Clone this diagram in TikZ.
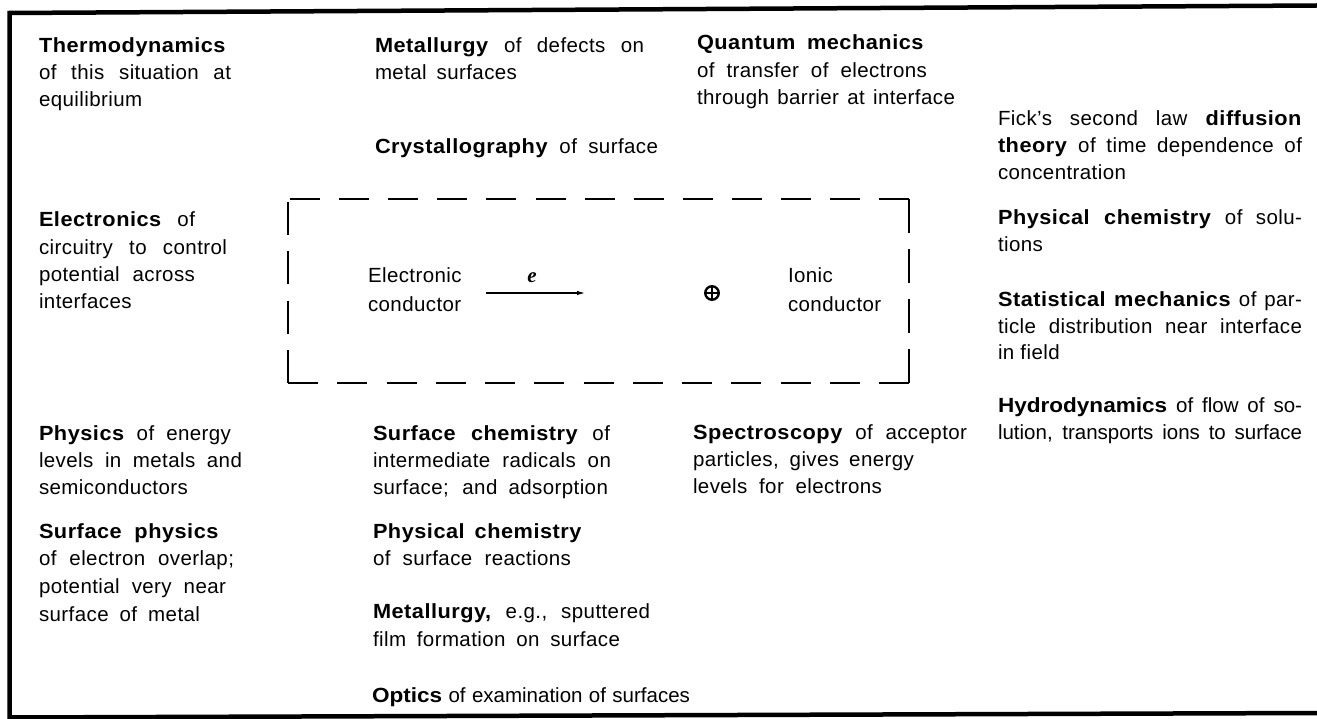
\documentclass[tikz,border=0pt]{standalone}
\usepackage{fontspec}
\setmainfont{Liberation Sans}[LetterSpace=2,BoldFeatures={FakeStretch=1.06,LetterSpace=2.5}]
\newfontfamily\tight{Liberation Sans}[BoldFeatures={FakeStretch=1.1}]
\newfontfamily\efont{Liberation Serif}
\usetikzlibrary{arrows.meta}
\newlength\jw
\newcommand\B[1]{\textbf{#1}}
\newcommand\J[2]{\settowidth\jw{#2}\ifdim\jw<#1pt\jw=#1pt\fi\makebox[\jw][s]{#2}}
\newcommand\blk[2]{\vtop{\baselineskip=#1pt\lineskiplimit=-100pt\lineskip=0pt\halign{##\hfil\cr#2\crcr}}}
\tikzset{
  txt/.style={inner sep=0pt, outer sep=0pt, anchor=base west, font=\fontsize{20.5}{27}\selectfont},
  tighttxt/.style={txt, font=\tight\fontsize{20.5}{27}\selectfont},
  dbox/.style={line width=2.2pt},
  frame/.style={line width=4.5pt, line join=miter},
  flow/.style={-{Latex[length=8pt,width=4.5pt]}, line width=1.1pt}
}
\begin{document}
\begin{tikzpicture}[x=1pt,y=-1pt]
\useasboundingbox (0,0) rectangle (1317,719);
% outer frame
\coordinate (fTL) at (9.5,13);
\coordinate (fTR) at (1317,5.5);
\coordinate (fBL) at (9.5,717.5);
\coordinate (fBR) at (1317,713);
\draw[frame] (fTR) -- (fTL) -- (fBL) -- (fBR);

% left column
\node[txt] (thermo) at (39,53) {\blk{27}{\B{Thermodynamics}\cr \J{192}{of this situation at}\cr equilibrium}};
\node[txt] (electronics) at (39,227) {\blk{27.3}{\J{156}{\B{Electronics} of}\cr \J{188}{circuitry to control}\cr \J{156}{potential across}\cr interfaces}};
\node[txt] (physics) at (39,440) {\blk{27}{\J{192}{\B{Physics} of energy}\cr \J{203}{levels in metals and}\cr semiconductors}};
\node[txt] (surfphys) at (39,538) {\blk{27.7}{\J{180}{\B{Surface physics}}\cr \J{195}{of electron overlap;}\cr \J{187}{potential very near}\cr \J{161}{surface of metal}}};

% middle column
\node[txt] (metal1) at (375,53) {\blk{27}{\J{269}{\B{Metallurgy} of defects on}\cr \J{142}{metal surfaces}}};
\node[txt] (crystal) at (375,154) {\J{283}{\B{Crystallography} of surface}};
\node[txt] (surfchem) at (373,440) {\blk{27}{\J{237}{\B{Surface chemistry} of}\cr \J{238}{intermediate radicals on}\cr \J{235}{surface; and adsorption}}};
\node[txt] (physchem) at (373,538) {\blk{27}{\J{209}{\B{Physical chemistry}}\cr \J{198}{of surface reactions}}};
\node[txt] (metal2) at (373,618) {\blk{28}{\J{277}{\B{Metallurgy,} e.g., sputtered}\cr \J{247}{film formation on surface}}};
\node[tighttxt] (optics) at (372,702) {\J{318}{\B{Optics} of examination of surfaces}};

% third column
\node[txt] (quantum) at (697,50) {\blk{27.5}{\J{227}{\B{Quantum mechanics}}\cr \J{230}{of transfer of electrons}\cr \J{258}{through barrier at interface}}};
\node[txt] (spectro) at (693,439) {\blk{27}{\J{274}{\B{Spectroscopy} of acceptor}\cr \J{221}{particles, gives energy}\cr \J{189}{levels for electrons}}};

% right column
\node[txt] (fick) at (998,126) {\blk{27}{\J{304}{Fick’s second law \B{diffusion}}\cr \J{304}{\B{theory} of time dependence of}\cr concentration}};
\node[txt] (solutions) at (998,225) {\blk{27}{\J{304}{\B{Physical chemistry} of solu-}\cr tions}};
\node[txt] (statmech) at (998,306) {\blk{27}{\J{304}{\B{Statistical mechanics} of par-}\cr \J{304}{ticle distribution near interface}\cr in field}};
\node[tighttxt] (hydro) at (998,412) {\blk{27}{\J{304}{\B{Hydrodynamics} of flow of so-}\cr \J{304}{lution, transports ions to surface}}};

% interface cell
\node[minimum width=621pt, minimum height=184pt, inner sep=0pt, outer sep=0pt] (cell) at (598.5,291) {};
\draw[dbox, dash pattern=on 30pt off 19.1pt] ([xshift=2pt]cell.north west) -- (cell.north east);
\draw[dbox, dash pattern=on 33pt off 16.3pt] ([yshift=-3pt]cell.north west) -- (cell.south west);
\draw[dbox, dash pattern=on 34pt off 16pt] (cell.north east) -- (cell.south east);
\draw[dbox, dash pattern=on 30pt off 19.25pt] (cell.south west) -- (cell.south east);

\node[txt] (econd) at (368,283) {\blk{29}{Electronic\cr conductor}};
\node[txt] (icond) at (788,283) {\blk{29}{Ionic\cr conductor}};
\coordinate (eA) at (486,293);
\coordinate (eB) at (585,293);
\draw[flow] (eA) -- (eB);
\node[anchor=base, inner sep=0pt, font=\efont\bfseries\itshape\fontsize{21}{24}\selectfont] (elabel) at (532,283) {e};
\node[circle, draw, line width=2.4pt, minimum size=13.5pt, inner sep=0pt] (ion) at (712,293) {};
\draw[line width=1.9pt] (ion.north) -- (ion.south) (ion.west) -- (ion.east);
\end{tikzpicture}
\end{document}
